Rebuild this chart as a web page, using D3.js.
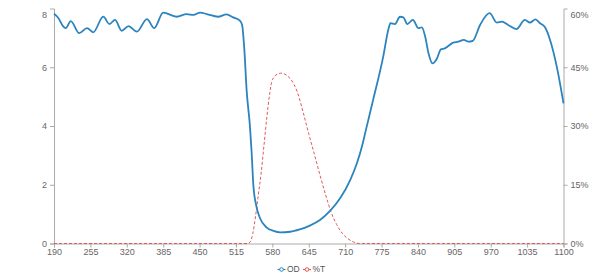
<!DOCTYPE html>
<html><head><meta charset="utf-8">
<script src="https://cdn.jsdelivr.net/npm/d3@7"></script>
<style>
html,body{margin:0;padding:0;background:#fff;}
svg{display:block;font-family:"Liberation Sans",Arial,sans-serif;}
</style></head>
<body>
<svg id="chart" width="600" height="278"></svg>
<script>
const odWavelengths = [190,198,206,211,220,235,249,260,278,289,299,311,323,338,356,369,385,409,427,439,451,463,483,498,510,522,526,530,534,540,543,546,551,558,570,582,594,612,629,647,665,683,701,719,731,740,747,760,778,787,791,799,808,814,821,831,841,847,853,859,866,874,881,888,903,912,922,930,938,951,968,981,990,1001,1016,1031,1040,1050,1058,1067,1076,1088,1100];
const odValues = [7.82,7.67,7.40,7.33,7.57,7.16,7.33,7.19,7.72,7.47,7.61,7.24,7.40,7.21,7.64,7.33,7.86,7.72,7.81,7.78,7.86,7.81,7.72,7.80,7.70,7.59,7.44,6.59,5.23,3.98,3.1,2.0,1.31,0.86,0.54,0.43,0.38,0.40,0.48,0.61,0.80,1.11,1.54,2.16,2.73,3.30,3.86,4.89,6.36,7.27,7.50,7.47,7.72,7.70,7.47,7.61,7.33,7.36,7.04,6.47,6.13,6.30,6.61,6.64,6.84,6.87,6.93,6.87,6.90,7.44,7.84,7.52,7.55,7.44,7.30,7.61,7.52,7.63,7.50,7.36,6.93,6.02,4.77];
const tWavelengths = [190,400,535,540,545,550,555,560,565,570,575,580,590,597,605,615,625,635,645,655,665,675,685,695,705,715,725,735,900,1100];
const tValues = [0,0,0,0.3,2.5,7,12.5,18,25,32,38,41.8,43.3,43.5,43,41.5,38.5,33.5,28,22.8,17.5,12.5,8,4.8,2.6,1.2,0.4,0,0,0];
const xTicks = [190,255,320,385,450,515,580,645,710,775,840,905,970,1035,1100];
const odTicks = [0,2,4,6,8];
const tTicks = [0,15,30,45,60];
const seriesNames = ["OD","%T"];

const W=600,H=278, L=54, R=563.5, T=8.5, B=243.5;
const svg=d3.select("#chart");
const x=d3.scaleLinear().domain([190,1100]).range([L,R]);
const yL=d3.scaleLinear().domain([0,8]).range([B,T]);
const yR=d3.scaleLinear().domain([0,60]).range([B,T]);
const axisColor="#aaa", labelColor="#666", fs="9px";
const odColor="#2b84bf", tColor="#e05a5a";

const gl=svg.append("g").attr("transform",`translate(${L},0)`)
  .call(d3.axisLeft(yL).tickValues(odTicks).tickSize(4).tickPadding(3).tickFormat(d3.format("d")));
const gr=svg.append("g").attr("transform",`translate(${R},0)`)
  .call(d3.axisRight(yR).tickValues(tTicks).tickSize(4).tickPadding(3).tickFormat(d=>d+"%"));
const gb=svg.append("g").attr("transform",`translate(0,${B})`)
  .call(d3.axisBottom(x).tickValues(xTicks).tickSize(4).tickPadding(1).tickFormat(d3.format("d")));

[gl,gr,gb].forEach(g=>{
  g.select(".domain").attr("stroke",axisColor).attr("stroke-width",1);
  g.selectAll(".tick line").attr("stroke",axisColor);
  g.selectAll(".tick text").attr("fill",labelColor).style("font-size",fs).style("font-family","'Liberation Sans',Arial,sans-serif");
});
[gl,gr].forEach(g=>{
  const top=g.selectAll(".tick").filter((d,i,n)=>i===n.length-1);
  top.select("line").remove();
  top.select("text").attr("dy","0.95em");
});

svg.append("path")
  .datum(tWavelengths.map((w,i)=>[w,tValues[i]]))
  .attr("fill","none").attr("stroke",tColor).attr("stroke-width",1)
  .attr("stroke-dasharray","3,2")
  .attr("d",d3.line().x(d=>x(d[0])).y(d=>yR(d[1])).curve(d3.curveMonotoneX));

svg.append("path")
  .datum(odWavelengths.map((w,i)=>[w,odValues[i]]))
  .attr("fill","none").attr("stroke",odColor).attr("stroke-width",1.8)
  .attr("d",d3.line().x(d=>x(d[0])).y(d=>yL(d[1])).curve(d3.curveMonotoneX));

// legend
const lg=svg.append("g");
const legendItems=[{name:seriesNames[0],color:odColor,cx:281.5,tx:287},{name:seriesNames[1],color:tColor,cx:307,tx:312.5}];
legendItems.forEach(it=>{
  lg.append("line").attr("x1",it.cx-4).attr("x2",it.cx+4).attr("y1",269.5).attr("y2",269.5)
    .attr("stroke",it.color).attr("stroke-width",1.2);
  lg.append("circle").attr("cx",it.cx).attr("cy",269.5).attr("r",1.8).attr("fill","#fff")
    .attr("stroke",it.color).attr("stroke-width",1);
  lg.append("text").attr("x",it.tx).attr("y",269.5).attr("dy","0.35em")
    .attr("fill","#555").style("font-size","8.5px").text(it.name);
});
</script>
</body></html>
